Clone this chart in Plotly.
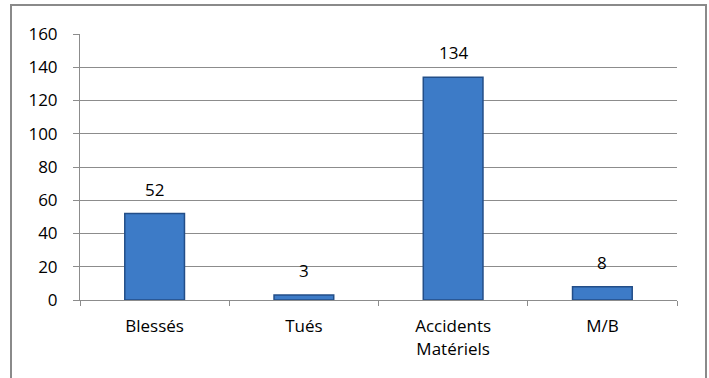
import plotly.graph_objects as go

categories = ["Blessés", "Tués", "Accidents<br>Matériels", "M/B"]
values = [52, 3, 134, 8]
y_ticks = [0, 20, 40, 60, 80, 100, 120, 140, 160]

W, H = 709, 378
L, R, T, B = 80, 32, 34, 78
pw, ph = W - L - R, H - T - B

FONT = "Open Sans, sans-serif"
FS = 17

fig = go.Figure()
fig.add_trace(go.Bar(
    x=categories, y=values,
    marker=dict(color="#3D7BC7", line=dict(color="#234E88", width=1.5)),
    width=0.4,
    hoverinfo="skip",
))

for c, v in zip(categories, values):
    fig.add_annotation(x=c, y=v, text=str(v), showarrow=False,
                       yanchor="bottom", yshift=11,
                       font=dict(family=FONT, size=FS, color="#000000"))

fig.add_shape(type="rect", xref="paper", yref="paper",
              x0=(11 - L) / pw, x1=(706 - L) / pw,
              y0=-(B + 20) / ph, y1=1 + (T - 5) / ph,
              line=dict(color="#8A8A8A", width=2), fillcolor="rgba(0,0,0,0)",
              layer="below")

fig.update_layout(
    width=W, height=H,
    margin=dict(l=L, r=R, t=T, b=B),
    paper_bgcolor="white", plot_bgcolor="white",
    showlegend=False,
    font=dict(family=FONT, size=FS, color="#000000"),
    bargap=0.6,
)
fig.update_yaxes(
    range=[0, 160], tickvals=y_ticks, ticktext=[str(t) for t in y_ticks],
    showgrid=True, gridcolor="#8C8C8C", gridwidth=1,
    showline=True, linecolor="#8C8C8C", linewidth=1,
    ticks="outside", ticklen=6, tickcolor="#8C8C8C",
    ticklabelstandoff=12,
    zeroline=False,
    tickfont=dict(family=FONT, size=FS),
)
fig.update_xaxes(
    showline=True, linecolor="#8C8C8C", linewidth=1,
    ticks="outside", ticklen=5, tickcolor="#8C8C8C",
    tickson="boundaries", showgrid=False,
    ticklabelstandoff=11,
    tickfont=dict(family=FONT, size=FS),
)

fig.write_html("out.html")
